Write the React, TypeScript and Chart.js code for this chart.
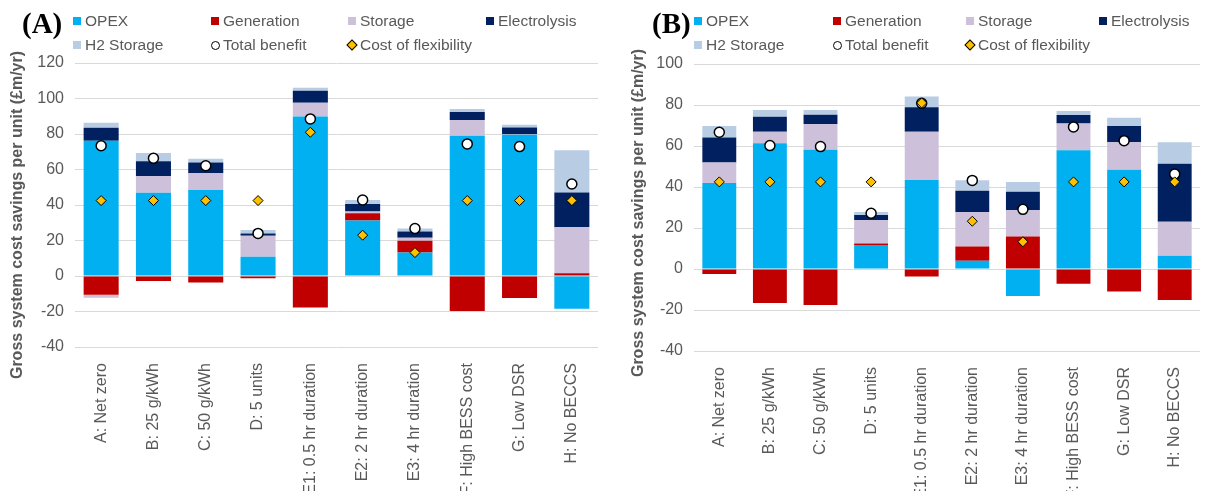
import React, { useEffect, useRef } from 'react';
import { Chart, registerables } from 'chart.js';
Chart.register(...registerables);
Chart.defaults.font.family = "'Liberation Sans', Arial, sans-serif";

const categories = ['A: Net zero', 'B: 25 g/kWh', 'C: 50 g/kWh', 'D: 5 units', 'E1: 0.5 hr duration', 'E2: 2 hr duration', 'E3: 4 hr duration', 'F: High BESS cost', 'G: Low DSR', 'H: No BECCS'];
const seriesLabels = ['OPEX', 'Generation', 'Storage', 'Electrolysis', 'H2 Storage'];
const seriesColors = ['#00B0F0', '#C00000', '#CCC0DA', '#002060', '#B8CCE4'];
const pointLabels = ['Total benefit', 'Cost of flexibility'];
const yTitle = 'Gross system cost savings per unit (£m/yr)';

// Panel A
const opexA = [76.2, 46.9, 48.5, 10.9, 89.8, 31.2, 13.3, 79.0, 79.6, -18.5];
const genA = [-10.6, -2.8, -3.6, -1.3, -17.8, 4.1, 6.5, -19.7, -12.4, 1.5];
const stoA = [-1.7, 9.4, 9.4, 11.8, 7.8, 1.0, 1.8, 8.9, 0.3, 25.9];
const eleA = [7.3, 8.3, 6.1, 1.3, 6.8, 4.3, 3.5, 4.5, 3.8, 19.7];
const h2A = [2.9, 4.7, 2.1, 1.9, 1.7, 2.2, 1.7, 1.7, 1.5, 23.7];
const totalA = [73.4, 66.3, 62.1, 24.0, 88.5, 42.8, 26.7, 74.4, 72.9, 51.8];
const flexA = [42.5, 42.5, 42.5, 42.5, 81.0, 23.0, 13.2, 42.5, 42.5, 42.5];

// Panel B
const opexB = [42.0, 61.3, 58.2, 11.7, 43.4, 4.0, -13.2, 57.9, 48.4, 6.5];
const genB = [-2.4, -16.6, -17.6, 0.8, -3.7, 7.0, 15.8, -7.2, -11.0, -15.1];
const stoB = [9.9, 5.7, 12.5, 11.4, 23.6, 16.8, 13.0, 13.1, 13.4, 16.6];
const eleB = [12.3, 7.3, 4.6, 2.4, 11.9, 10.4, 8.9, 4.1, 8.0, 28.3];
const h2B = [5.6, 3.3, 2.3, 1.5, 5.3, 5.1, 4.7, 2.0, 4.0, 10.4];
const totalB = [66.7, 60.2, 59.7, 27.2, 80.8, 43.2, 29.1, 69.3, 62.6, 46.3];
const flexB = [42.5, 42.5, 42.5, 42.5, 81.0, 23.3, 13.3, 42.5, 42.5, 42.5];

const TEXT = '#595959';

type PanelProps = {
  left: number;
  tag: string;
  tagLeft: number;
  bars: number[][];
  total: number[];
  flex: number[];
  yMax: number;
  area: { left: number; right: number; top: number; xh: number; titleX: number; titleY: number };
  cols: number[];
};

function Marker({ kind, color }: { kind: string; color: string }) {
  if (kind === 'circle') {
    return <span style={{ display: 'inline-block', width: 7, height: 7, borderRadius: '50%', background: '#fff', border: '1.5px solid #000' }} />;
  }
  if (kind === 'diamond') {
    return <span style={{ display: 'inline-block', width: 6, height: 6, background: '#FFC000', border: '1px solid #000', transform: 'rotate(45deg)' }} />;
  }
  return <span style={{ display: 'inline-block', width: 8, height: 8, background: color }} />;
}

function Panel({ left, tag, tagLeft, bars, total, flex, yMax, area, cols }: PanelProps) {
  const ref = useRef<HTMLCanvasElement>(null);
  useEffect(() => {
    const titlePlugin = {
      id: 'yTitleDraw',
      afterDraw(chart: any) {
        const ctx = chart.ctx;
        ctx.save();
        ctx.translate(area.titleX, area.titleY);
        ctx.rotate(-Math.PI / 2);
        ctx.font = "bold 16px 'Liberation Sans', Arial, sans-serif";
        ctx.fillStyle = TEXT;
        ctx.textAlign = 'center';
        ctx.textBaseline = 'middle';
        ctx.fillText(yTitle, 0, 0);
        ctx.restore();
      },
    };
    const chart = new Chart(ref.current as HTMLCanvasElement, {
      type: 'bar',
      data: {
        labels: categories,
        datasets: [
          ...bars.map((d, i) => ({
            type: 'bar' as const,
            label: seriesLabels[i],
            data: d,
            backgroundColor: seriesColors[i],
            order: 2,
            barPercentage: 0.67,
            categoryPercentage: 1,
          })),
          {
            type: 'line' as const,
            label: pointLabels[0],
            data: total,
            showLine: false,
            pointStyle: 'circle',
            pointRadius: 5,
            pointBackgroundColor: '#ffffff',
            pointBorderColor: '#000000',
            pointBorderWidth: 1.5,
            order: 1,
            stack: 'tb',
          },
          {
            type: 'line' as const,
            label: pointLabels[1],
            data: flex,
            showLine: false,
            pointStyle: 'rectRot',
            pointRadius: 5,
            pointBackgroundColor: '#FFC000',
            pointBorderColor: '#000000',
            pointBorderWidth: 1,
            order: 0,
            stack: 'cf',
          },
        ] as any,
      },
      options: {
        animation: false,
        responsive: false,
        layout: { padding: { left: 0, right: area.right, top: area.top, bottom: 0 } },
        plugins: { legend: { display: false }, tooltip: { enabled: false } },
        scales: {
          x: {
            stacked: true,
            grid: { display: false },
            border: { display: false },
            ticks: { autoSkip: false, maxRotation: 90, minRotation: 90, padding: 8, color: TEXT, font: { size: 16 } },
            afterFit: (s: any) => { s.height = area.xh; },
          },
          y: {
            stacked: true,
            min: -40,
            max: yMax,
            ticks: { stepSize: 20, padding: 11, color: TEXT, font: { size: 16 } },
            grid: { color: '#d9d9d9', drawTicks: false },
            border: { display: false },
            title: { display: false },
            afterFit: (s: any) => { s.width = area.left; },
          },
        },
      } as any,
      plugins: [titlePlugin],
    });
    return () => chart.destroy();
  }, []);

  const legendItems = [
    { label: seriesLabels[0], kind: 'square', color: seriesColors[0], row: 0, col: 0 },
    { label: seriesLabels[1], kind: 'square', color: seriesColors[1], row: 0, col: 1 },
    { label: seriesLabels[2], kind: 'square', color: seriesColors[2], row: 0, col: 2 },
    { label: seriesLabels[3], kind: 'square', color: seriesColors[3], row: 0, col: 3 },
    { label: seriesLabels[4], kind: 'square', color: seriesColors[4], row: 1, col: 0 },
    { label: pointLabels[0], kind: 'circle', color: '#fff', row: 1, col: 1 },
    { label: pointLabels[1], kind: 'diamond', color: '#FFC000', row: 1, col: 2 },
  ];

  return (
    <div style={{ position: 'absolute', left, top: 0, width: 605, height: 491 }}>
      <canvas ref={ref} width={605} height={491} style={{ position: 'absolute', left: 0, top: 0, width: 605, height: 491 }} />
      <div style={{ position: 'absolute', left: tagLeft, top: 7, fontFamily: "'Liberation Serif', 'Times New Roman', serif", fontWeight: 'bold', fontSize: 29, lineHeight: '32px', color: '#000' }}>{tag}</div>
      {legendItems.map((it) => (
        <div key={it.label} style={{ position: 'absolute', left: cols[it.col] - 12, top: 11 + it.row * 24, height: 20, display: 'flex', alignItems: 'center', fontFamily: "'Liberation Sans', Arial, sans-serif", fontSize: 15.5, color: TEXT, whiteSpace: 'nowrap' }}>
          <span style={{ width: 12, display: 'inline-flex', alignItems: 'center' }}><Marker kind={it.kind} color={it.color} /></span>
          <span>{it.label}</span>
        </div>
      ))}
    </div>
  );
}

export default function App() {
  return (
    <div style={{ position: 'absolute', left: 0, top: 0, width: 1210, height: 491, background: '#fff', overflow: 'hidden' }}>
      <Panel
        left={0}
        tag="(A)"
        tagLeft={22}
        bars={[opexA, genA, stoA, eleA, h2A]}
        total={totalA}
        flex={flexA}
        yMax={120}
        area={{ left: 75, right: 7, top: 63, xh: 144, titleX: 18, titleY: 215 }}
        cols={[85, 223, 360, 498]}
      />
      <Panel
        left={605}
        tag="(B)"
        tagLeft={47}
        bars={[opexB, genB, stoB, eleB, h2B]}
        total={totalB}
        flex={flexB}
        yMax={100}
        area={{ left: 89, right: 10, top: 64, xh: 140, titleX: 34, titleY: 213 }}
        cols={[101, 240, 373, 506]}
      />
    </div>
  );
}
